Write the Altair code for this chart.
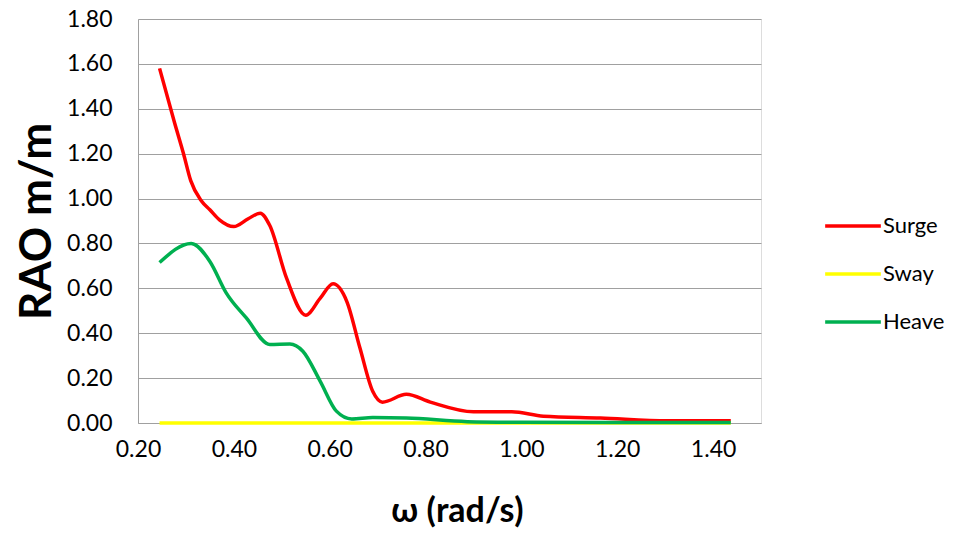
import altair as alt
import pandas as pd

surge_w = [0.245, 0.276, 0.295, 0.31, 0.332, 0.35, 0.37, 0.40, 0.43, 0.455, 0.475, 0.51, 0.55, 0.58, 0.607, 0.636, 0.663, 0.69, 0.71, 0.76, 0.81, 0.90, 0.98, 1.046, 1.165, 1.305, 1.437]
surge_v = [1.58, 1.34, 1.20, 1.08, 0.99, 0.95, 0.905, 0.875, 0.91, 0.935, 0.88, 0.645, 0.48, 0.555, 0.62, 0.54, 0.335, 0.14, 0.093, 0.128, 0.093, 0.05, 0.05, 0.03, 0.022, 0.01, 0.01]

sway_w = [0.245, 0.40, 0.60, 0.80, 1.00, 1.20, 1.437]
sway_v = [0.0, 0.0, 0.0, 0.0, 0.0, 0.0, 0.0]

heave_w = [0.245, 0.311, 0.35, 0.384, 0.426, 0.475, 0.517, 0.544, 0.58, 0.614, 0.646, 0.69, 0.76, 0.887, 1.00, 1.20, 1.437]
heave_v = [0.715, 0.80, 0.72, 0.58, 0.468, 0.35, 0.352, 0.32, 0.187, 0.053, 0.018, 0.024, 0.022, 0.006, 0.003, 0.002, 0.002]

series = ["Surge", "Sway", "Heave"]
colors = ["#ff0000", "#ffff00", "#00b050"]

df_surge = pd.DataFrame({"w": surge_w, "v": surge_v, "s": "Surge"})
df_sway = pd.DataFrame({"w": sway_w, "v": sway_v, "s": "Sway"})
df_heave = pd.DataFrame({"w": heave_w, "v": heave_v, "s": "Heave"})

FONT = "Lato, Noto Sans, sans-serif"

xenc = alt.X("w:Q", scale=alt.Scale(domain=[0.2, 1.5], nice=False),
             axis=alt.Axis(values=[0.2, 0.4, 0.6, 0.8, 1.0, 1.2, 1.4], format=".2f",
                           grid=False, ticks=False, domainColor="#a0a0a0", domainWidth=1,
                           labelFont=FONT, labelFontSize=23, labelColor="#000000",
                           labelPadding=15, labelFlush=False,
                           title="ω (rad/s)", titleFont=FONT, titleFontSize=34,
                           titleFontWeight="bold", titleColor="#000000",
                           titleX=319, titleY=88, titleBaseline="middle", titleAlign="center"))
yenc = alt.Y("v:Q", scale=alt.Scale(domain=[0, 1.8], nice=False),
             axis=alt.Axis(values=[0, 0.2, 0.4, 0.6, 0.8, 1.0, 1.2, 1.4, 1.6, 1.8], format=".2f",
                           grid=True, gridColor="#a0a0a0", gridWidth=1, ticks=False,
                           domainColor="#a0a0a0", domainWidth=1,
                           labelFont=FONT, labelFontSize=23, labelColor="#000000",
                           labelPadding=26,
                           title="RAO m/m", titleFont=FONT, titleFontSize=44,
                           titleFontWeight="bold", titleColor="#000000", titleAngle=270,
                           titleX=-101, titleY=202, titleBaseline="middle", titleAlign="center"))
cenc = alt.Color("s:N", scale=alt.Scale(domain=series, range=colors),
                 legend=alt.Legend(title=None, orient="none", legendX=685, legendY=177,
                                   symbolType="stroke", symbolSize=3100, symbolStrokeWidth=3.5,
                                   labelFont=FONT, labelFontSize=22, labelColor="#000000",
                                   labelOffset=0, rowPadding=7, padding=0))

def layer(df):
    return alt.Chart(df).mark_line(interpolate="monotone", strokeWidth=3.5).encode(
        x=xenc, y=yenc, color=cenc)

chart = alt.layer(layer(df_surge), layer(df_sway), layer(df_heave)).properties(
    width=623, height=404,
    autosize=alt.AutoSizeParams(type="none"),
    padding={"left": 130, "top": 11, "right": 188, "bottom": 108},
).configure_view(stroke=None).configure(background="white")

chart.save("out.html", embed_options={"renderer": "svg", "actions": False})
